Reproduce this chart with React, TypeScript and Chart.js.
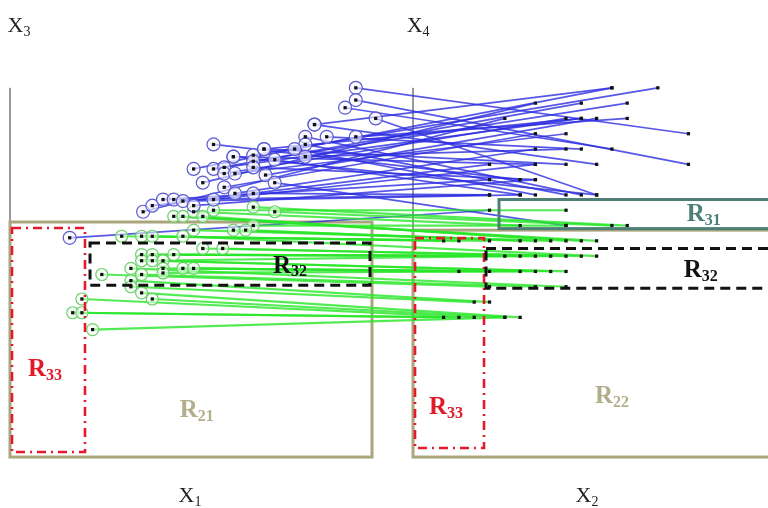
import React, { useEffect, useRef } from "react";
import { Chart, registerables } from "chart.js";
Chart.register(...registerables);

// ---- view window (diagram units) ----
const X_MIN = -0.654;
const X_MAX = 49.54;
const Y_MIN = -3.46;
const Y_MAX = 29.74;
const RIGHT_OFFSET = 26.34; // where the (X2, X4) panel starts on the shared x scale

// ---- blue connections: (X1, X3) -> (X2, X4) ----
const blueX1 = [22.6, 22.6, 21.9, 23.9, 19.9, 19.3, 19.3, 20.7, 22.6, 18.6, 16.6, 15.9, 15.9, 15.9, 19.3, 16.7, 13.3, 14.6, 12.0, 13.3, 14.0, 14.0, 14.7, 12.6, 14.0, 14.7, 17.3, 8.7, 9.3, 10.0, 10.7, 3.9, 17.3, 15.9, 13.3, 19.9, 16.6, 14.6, 11.3, 12.0];
const blueX3 = [24.0, 23.2, 22.7, 22.0, 21.6, 20.8, 20.3, 20.8, 20.8, 20.0, 20.0, 19.6, 19.2, 18.8, 19.5, 18.3, 20.3, 19.5, 18.7, 18.7, 18.8, 18.4, 18.4, 17.8, 17.5, 17.1, 17.8, 15.9, 16.3, 16.7, 16.7, 14.2, 19.3, 17.1, 16.7, 21.6, 20.0, 19.5, 16.6, 16.3];
const blueX2 = [18, 18, 13, 12, 12, 11, 10, 11, 14, 8, 10, 16, 14, 8, 10, 12, 7, 8, 13, 11, 11, 10, 10, 8, 8, 8, 10, 6, 5, 5, 5, 5, 7, 5, 8, 13, 11, 12, 7, 8];
const blueX4 = [21, 19, 20, 17, 19, 17, 17, 20, 22, 17, 19, 24, 23, 18, 20, 22, 18, 19, 24, 23, 22, 22, 21, 23, 21, 20, 15, 22, 19, 18, 17, 16, 17, 17, 19, 24, 22, 17, 17, 18];

// ---- green connections: (X1, X3) -> (X2, X4) ----
const greenX1 = [13.3, 15.9, 17.3, 12.0, 15.9, 10.7, 11.3, 12.6, 12.0, 14.6, 15.4, 7.3, 8.6, 9.3, 11.3, 12.6, 13.9, 8.6, 9.3, 10.7, 8.6, 9.3, 10.0, 10.0, 10.0, 11.3, 12.0, 7.9, 8.6, 6.0, 7.9, 7.9, 8.6, 9.3, 4.7, 4.1, 4.7, 5.4];
const greenX3 = [16.0, 16.2, 15.9, 15.9, 15.0, 15.6, 15.6, 15.6, 14.7, 14.7, 14.7, 14.3, 14.3, 14.3, 14.3, 13.5, 13.5, 13.1, 13.1, 13.1, 12.7, 12.7, 12.7, 12.2, 11.9, 12.2, 12.2, 12.2, 11.8, 11.8, 11.4, 11.0, 10.6, 10.2, 10.2, 9.3, 9.3, 8.2];
const greenX2 = [10, 14, 13, 7, 10, 12, 11, 10, 9, 8, 7, 5, 3, 2, 12, 11, 10, 9, 8, 7, 6, 10, 9, 8, 7, 5, 3, 10, 8, 5, 5, 4, 7, 6, 4, 3, 2, 6];
const greenX4 = [16, 15, 15, 15, 15, 14, 14, 14, 14, 14, 14, 14, 14, 14, 13, 13, 13, 13, 13, 13, 13, 12, 12, 12, 12, 12, 12, 11, 11, 11, 10, 10, 9, 9, 9, 9, 9, 9];

// ---- regions ----
const regionPanel = ["L", "L", "L", "R", "R", "R", "R"];
const regionKind = ["R21", "R33", "R32", "R22", "R33", "R32", "R31"];
const regionLeft = [0, 0.13, 5.23, 0, 0.13, 4.77, 5.62];
const regionRight = [23.66, 4.9, 23.53, 24, 4.64, 24, 24];
const regionBottom = [-0.13, 0.2, 11.1, -0.13, 0.46, 10.9, 14.8];
const regionTop = [15.23, 14.84, 13.86, 14.7, 14.18, 13.5, 16.7];

// ---- region labels ----
const labelPanel = ["L", "L", "L", "R", "R", "R", "R"];
const labelSub = ["33", "21", "32", "31", "32", "33", "22"];
const labelX = [2.29, 12.2, 18.3, 19.0, 18.8, 2.15, 13.0];
const labelY = [5.6, 2.9, 12.35, 15.7, 12.05, 3.1, 3.8];

// ---- axis titles ----
const axisPanel = ["L", "R", "L", "R"];
const axisSub = ["3", "4", "1", "2"];
const axisX = [0.59, 0.33, 11.76, 11.37];
const axisY = [28.0, 28.0, -2.68, -2.68];

const STYLE: Record<string, { color: string; width: number; dash: number[]; text: string }> = {
  R21: { color: "#aaa57c", width: 3, dash: [], text: "#b2ae8c" },
  R22: { color: "#aaa57c", width: 3, dash: [], text: "#b2ae8c" },
  R33: { color: "#e5192b", width: 2.6, dash: [9, 5, 2, 5], text: "#e01a26" },
  R32: { color: "#111111", width: 3, dash: [10, 6], text: "#111111" },
  R31: { color: "#4d7f77", width: 3, dash: [], text: "#4d7f77" },
};

const BLUE_LINE = "rgba(45,45,225,0.8)";
const GREEN_LINE = "rgba(40,230,40,0.8)";

function xOf(panel: string, v: number) {
  return panel === "L" ? v : v + RIGHT_OFFSET;
}

function drawSubText(ctx: CanvasRenderingContext2D, main: string, sub: string, cx: number, cy: number, mainFont: string, subFont: string, color: string, subDrop: number) {
  ctx.font = mainFont;
  const w1 = ctx.measureText(main).width;
  ctx.font = subFont;
  const w2 = ctx.measureText(sub).width;
  const start = cx - (w1 + w2) / 2;
  ctx.fillStyle = color;
  ctx.textBaseline = "middle";
  ctx.textAlign = "left";
  ctx.font = mainFont;
  ctx.fillText(main, start, cy);
  ctx.font = subFont;
  ctx.fillText(sub, start + w1, cy + subDrop);
}

const overlay = {
  id: "overlay",
  beforeDatasetsDraw(chart: any) {
    const { ctx, scales } = chart;
    const sx = scales.x, sy = scales.y;
    ctx.save();
    ctx.strokeStyle = "#9a9a9a";
    ctx.lineWidth = 2;
    ctx.beginPath();
    ctx.moveTo(sx.getPixelForValue(xOf("L", 0)), sy.getPixelForValue(24));
    ctx.lineTo(sx.getPixelForValue(xOf("L", 0)), sy.getPixelForValue(15.2));
    ctx.stroke();
    ctx.strokeStyle = "#333";
    ctx.lineWidth = 1;
    ctx.beginPath();
    ctx.moveTo(sx.getPixelForValue(xOf("R", 0)), sy.getPixelForValue(24));
    ctx.lineTo(sx.getPixelForValue(xOf("R", 0)), sy.getPixelForValue(14.7));
    ctx.stroke();
    for (let i = 0; i < regionKind.length; i++) {
      const k = regionKind[i];
      if (k !== "R21" && k !== "R22") continue;
      const st = STYLE[k];
      const x0 = sx.getPixelForValue(xOf(regionPanel[i], regionLeft[i]));
      const x1 = sx.getPixelForValue(xOf(regionPanel[i], regionRight[i]));
      const y0 = sy.getPixelForValue(regionTop[i]);
      const y1 = sy.getPixelForValue(regionBottom[i]);
      ctx.strokeStyle = st.color;
      ctx.lineWidth = st.width;
      ctx.setLineDash(st.dash);
      ctx.strokeRect(x0, y0, x1 - x0, y1 - y0);
    }
    ctx.restore();
  },
  afterDatasetsDraw(chart: any) {
    const { ctx, scales } = chart;
    const sx = scales.x, sy = scales.y;
    ctx.save();
    for (let i = 0; i < regionKind.length; i++) {
      const k = regionKind[i];
      if (k === "R21" || k === "R22") continue;
      const st = STYLE[k];
      const x0 = sx.getPixelForValue(xOf(regionPanel[i], regionLeft[i]));
      const x1 = sx.getPixelForValue(xOf(regionPanel[i], regionRight[i]));
      const y0 = sy.getPixelForValue(regionTop[i]);
      const y1 = sy.getPixelForValue(regionBottom[i]);
      ctx.strokeStyle = st.color;
      ctx.lineWidth = st.width;
      ctx.setLineDash(st.dash);
      ctx.strokeRect(x0, y0, x1 - x0, y1 - y0);
    }
    ctx.setLineDash([]);
    for (let i = 0; i < labelSub.length; i++) {
      const kind = "R" + labelSub[i];
      const st = STYLE[kind];
      drawSubText(
        ctx, "R", labelSub[i],
        sx.getPixelForValue(xOf(labelPanel[i], labelX[i])),
        sy.getPixelForValue(labelY[i]),
        'bold 25px "Liberation Serif"', 'bold 16px "Liberation Serif"',
        st.text, 6
      );
    }
    for (let i = 0; i < axisSub.length; i++) {
      drawSubText(
        ctx, "X", axisSub[i],
        sx.getPixelForValue(xOf(axisPanel[i], axisX[i])),
        sy.getPixelForValue(axisY[i]),
        '22px "Liberation Serif"', '14px "Liberation Serif"',
        "#222", 6
      );
    }
    ctx.restore();
  },
};

export default function App() {
  const ref = useRef<HTMLCanvasElement | null>(null);
  useEffect(() => {
    document.body.style.margin = "0";
    const datasets: any[] = [];
    const dotPts: { x: number; y: number }[] = [];
    const bluePts: { x: number; y: number }[] = [];
    const greenPts: { x: number; y: number }[] = [];
    for (let i = 0; i < blueX1.length; i++) {
      const a = { x: xOf("L", blueX1[i]), y: blueX3[i] };
      const b = { x: xOf("R", blueX2[i]), y: blueX4[i] };
      bluePts.push(a);
      dotPts.push(a, b);
      datasets.push({ data: [a, b], showLine: true, borderColor: BLUE_LINE, borderWidth: 1.7, pointRadius: 0, order: 10 });
    }
    for (let i = 0; i < greenX1.length; i++) {
      const a = { x: xOf("L", greenX1[i]), y: greenX3[i] };
      const b = { x: xOf("R", greenX2[i]), y: greenX4[i] };
      greenPts.push(a);
      dotPts.push(a, b);
      datasets.push({ data: [a, b], showLine: true, borderColor: GREEN_LINE, borderWidth: 2.2, pointRadius: 0, order: 9 });
    }
    datasets.push({ data: greenPts, showLine: false, pointStyle: "circle", pointRadius: 6, borderColor: "#6ccf6c", borderWidth: 1.2, backgroundColor: "rgba(240,255,240,0.55)", order: 3 });
    datasets.push({ data: bluePts, showLine: false, pointStyle: "circle", pointRadius: 6.5, borderColor: "#5a5ad0", borderWidth: 1.2, backgroundColor: "rgba(245,245,255,0.6)", order: 2 });
    datasets.push({ data: dotPts, showLine: false, pointStyle: "rect", pointRadius: 2.3, borderWidth: 0, backgroundColor: "#111", order: 1 });

    const chart = new Chart(ref.current as HTMLCanvasElement, {
      type: "scatter",
      data: { datasets },
      options: {
        animation: false,
        responsive: false,
        maintainAspectRatio: false,
        layout: { padding: 0, autoPadding: false },
        plugins: { legend: { display: false }, tooltip: { enabled: false } },
        events: [],
        scales: {
          x: { type: "linear", min: X_MIN, max: X_MAX, display: false },
          y: { type: "linear", min: Y_MIN, max: Y_MAX, display: false },
        },
      },
      plugins: [overlay],
    });
    return () => chart.destroy();
  }, []);
  return (
    <div style={{ position: "fixed", left: 0, top: 0, width: 768, height: 508, background: "#fff" }}>
      <canvas ref={ref} width={768} height={508} style={{ display: "block" }} />
    </div>
  );
}
